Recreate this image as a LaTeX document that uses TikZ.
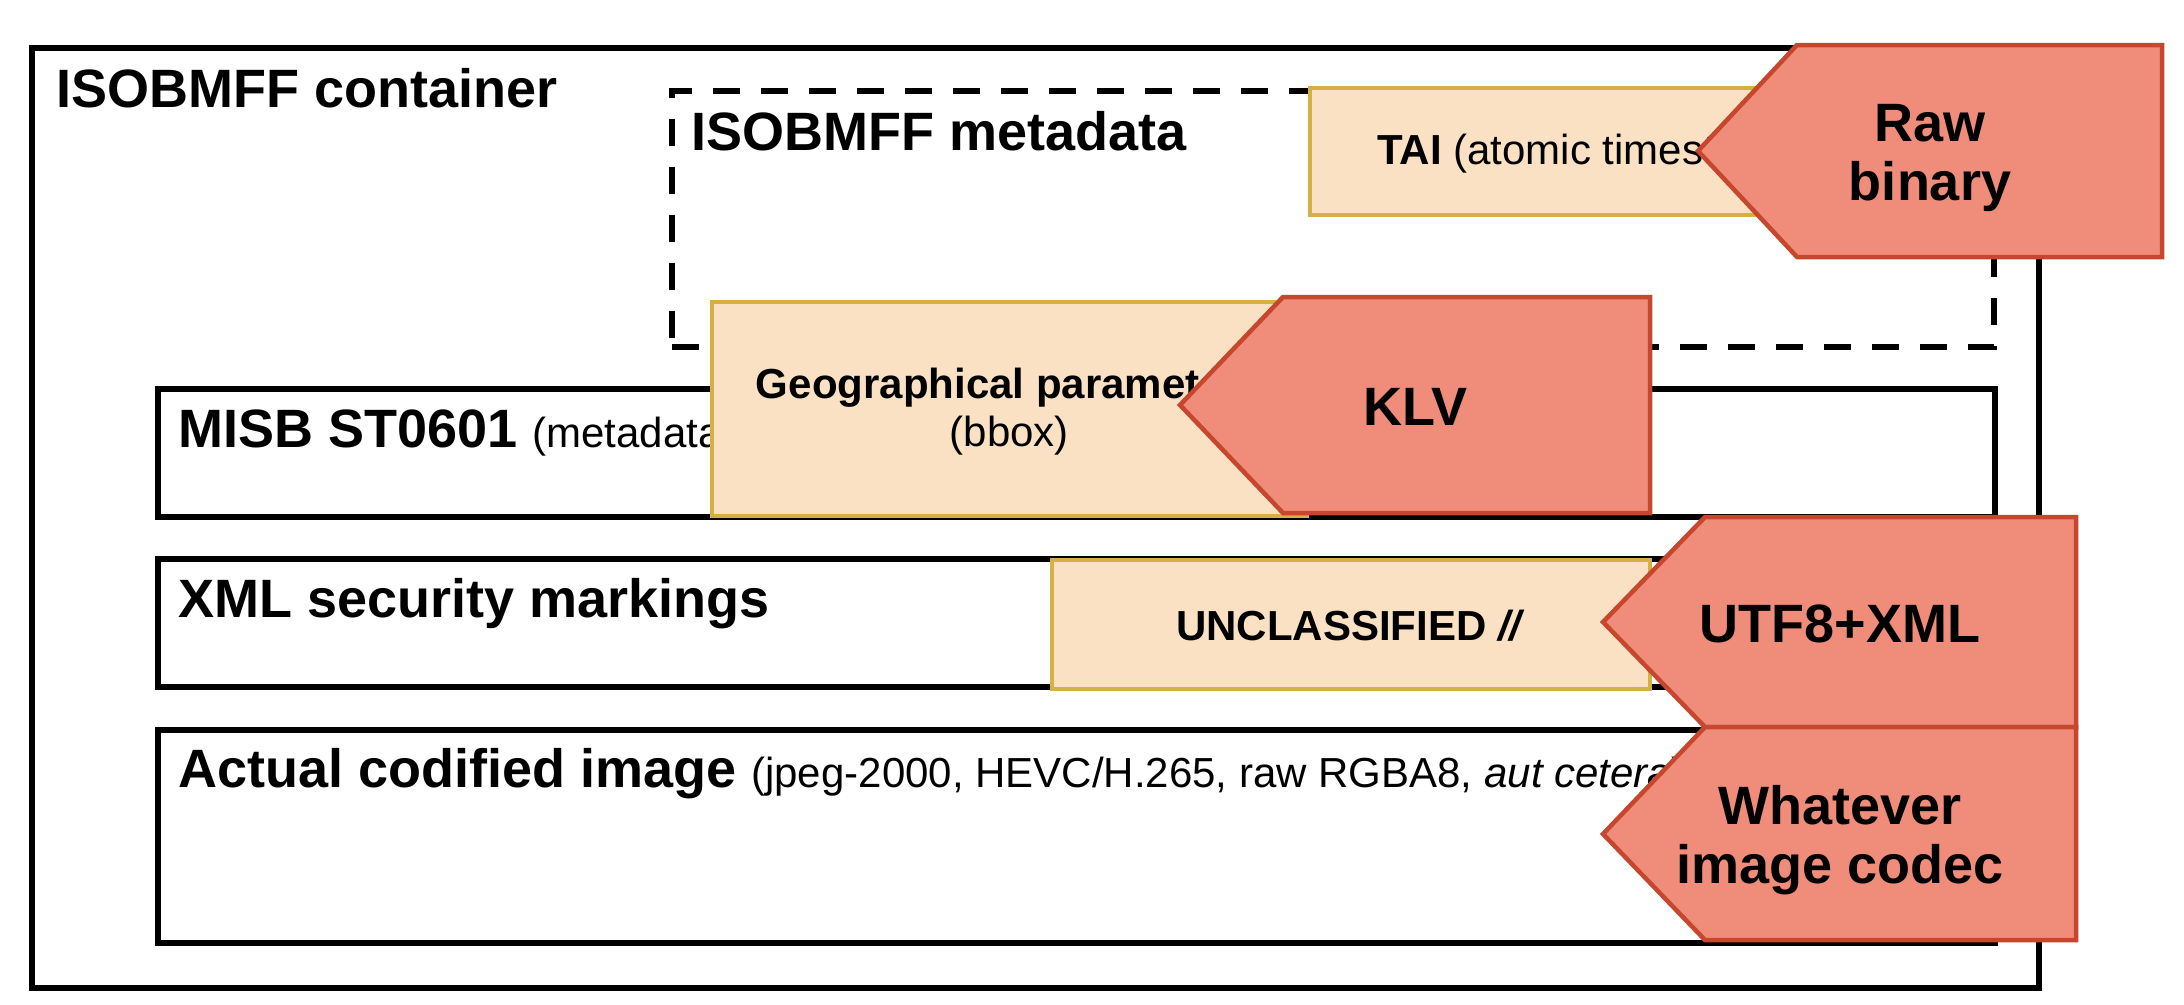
\documentclass[tikz,border=0pt]{standalone}
\usepackage{fontspec}
\setmainfont{Liberation Sans}

\definecolor{peachfill}{RGB}{250,225,196}
\definecolor{peachline}{RGB}{214,176,66}
\definecolor{salmonfill}{RGB}{240,140,122}
\definecolor{salmonline}{RGB}{198,70,46}

\newcommand{\titlesize}{\fontsize{54}{59}\selectfont}
\newcommand{\notesize}{\fontsize{42}{48}\selectfont}

\tikzset{
  frame/.style={draw=black, line width=5.5pt, anchor=north west, inner sep=0pt},
  groupbox/.style={draw=black, line width=5.5pt, dash pattern=on 27pt off 21pt,
                   anchor=north west, inner sep=0pt},
  peachbox/.style={draw=peachline, fill=peachfill, line width=3.5pt,
                   anchor=north west, inner sep=0pt},
  tagshape/.style={draw=salmonline, fill=salmonfill, line width=4.5pt, line join=miter},
  title/.style={anchor=base west, inner sep=0pt, font=\titlesize\bfseries},
  tagtext/.style={align=center, inner sep=0pt, font=\titlesize\bfseries},
  peachtext/.style={align=center, inner sep=0pt, font=\notesize},
}

\begin{document}
\begin{tikzpicture}[x=1pt, y=-1pt]
  \useasboundingbox (0,0) rectangle (2184,1004);

  % outer container and dashed metadata group
  \node[frame, minimum width=2007pt, minimum height=940pt] (container) at (29,45) {};
  \node[groupbox, minimum width=1322pt, minimum height=256pt] (metagroup) at (669,88) {};

  % layer boxes
  \node[frame, minimum width=1837pt, minimum height=128pt] (misb) at (155,386) {};
  \node[frame, minimum width=1837pt, minimum height=128pt] (xmlbox) at (155,556) {};
  \node[frame, minimum width=1837pt, minimum height=213pt] (imgbox) at (155,727) {};

  % box titles
  \node[title] (containerlbl) at (56,107) {ISOBMFF container};
  \node[title] (metalbl) at (691,150) {ISOBMFF metadata};
  \node[title] (misblbl) at (178,447) {MISB ST0601 {\notesize\mdseries (metadata standard)}};
  \node[title] (xmllbl) at (178,617) {XML security markings};
  \node[title] (imglbl) at (178,787) {Actual codified image {\notesize\mdseries (jpeg-2000, HEVC/H.265, raw RGBA8, \textit{aut cetera})}};

  % payload boxes
  \node[peachbox, minimum width=602pt, minimum height=127pt] (tai) at (1308,86) {};
  \node[peachtext, anchor=base west] (tailbl) at (1377,164) {\textbf{TAI} (atomic timestamp)};

  \node[peachbox, minimum width=595pt, minimum height=214pt] (geo) at (710,300) {};
  \node[peachtext] (geolbl) at ([yshift=-3pt]geo.center) {\textbf{Geographical parameters}\\(bbox)};

  \node[peachbox, minimum width=598pt, minimum height=129pt] (uncl) at (1050,558) {};
  \node[peachtext] (uncllbl) at ([yshift=-1pt]uncl.center) {\textbf{UNCLASSIFIED \textit{//}}};

  % encoding tags
  \draw[tagshape] (1698,151) -- (1797,45) -- (2162,45) -- (2162,257) -- (1797,257) -- cycle;
  \node[tagtext] (rawlbl) at (1930,158) {Raw\\binary};

  \draw[tagshape] (1180,405) -- (1283,297) -- (1650,297) -- (1650,513) -- (1283,513) -- cycle;
  \node[tagtext] (klvlbl) at (1415,407) {KLV};

  \draw[tagshape] (1603,622) -- (1705,517) -- (2076,517) -- (2076,727) -- (1705,727) -- cycle;
  \node[tagtext] (utflbl) at (1840,624) {UTF8+XML};

  \draw[tagshape] (1603,834) -- (1705,727) -- (2076,727) -- (2076,940) -- (1705,940) -- cycle;
  \node[tagtext] (codeclbl) at (1840,840) {Whatever\\image codec};
\end{tikzpicture}
\end{document}
